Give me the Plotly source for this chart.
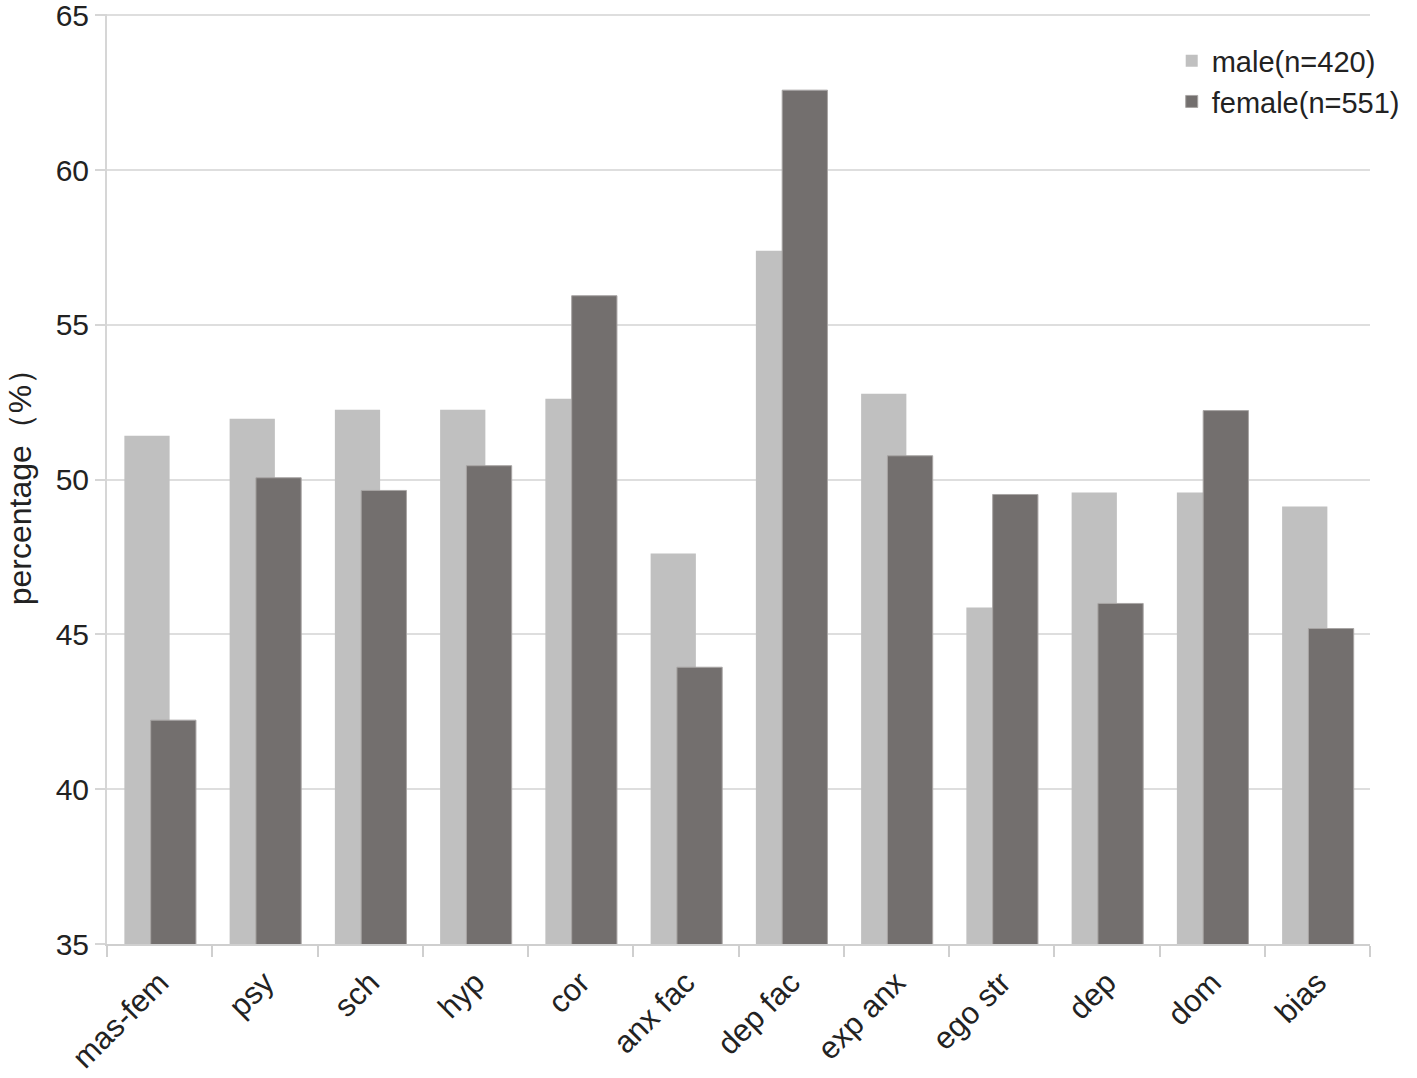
import plotly.graph_objects as go

categories = ["mas-fem", "psy", "sch", "hyp", "cor", "anx fac", "dep fac",
              "exp anx", "ego str", "dep", "dom", "bias"]
male = [51.42, 51.97, 52.26, 52.26, 52.61, 47.61, 57.39, 52.77, 45.87, 49.58, 49.58, 49.13]
female = [42.23, 50.06, 49.65, 50.45, 55.94, 43.94, 62.58, 50.77, 49.52, 46.0, 52.23, 45.19]
yticks = [35, 40, 45, 50, 55, 60, 65]

font = "Liberation Sans, Arial, Helvetica, sans-serif"

fig = go.Figure()
fig.add_trace(go.Bar(x=categories, y=male, name="male(n=420)",
                     marker=dict(color="#c0c0c0", line=dict(width=0)),
                     offset=-0.335, width=0.43, base=0))
fig.add_trace(go.Bar(x=categories, y=female, name="female(n=551)",
                     marker=dict(color="#736f6e", line=dict(color="#a8a5a4", width=1)),
                     offset=-0.085, width=0.43, base=0))

fig.update_layout(
    width=1417, height=1078,
    barmode="overlay",
    plot_bgcolor="white", paper_bgcolor="white",
    margin=dict(l=107, r=47, t=14, b=134, autoexpand=False),
    font=dict(family=font, size=26, color="#222222"),
    legend=dict(x=0.843, y=0.977, xanchor="left", yanchor="top",
                bgcolor="rgba(0,0,0,0)", font=dict(size=29, color="#222222"),
                itemwidth=30, tracegroupgap=24),
    showlegend=True,
)
fig.update_xaxes(
    type="category", tickson="boundaries", ticks="outside", ticklen=11,
    tickcolor="#cfcfcf", tickwidth=2, showline=True, linecolor="#cfcfcf",
    linewidth=2, tickangle=-45, tickfont=dict(size=31), showgrid=False,
    automargin=False, ticklabelstandoff=6,
)
fig.update_yaxes(
    range=[35, 65.04], tickvals=yticks, ticks="outside", ticklen=10,
    tickcolor="#d6d6d6", tickwidth=2, showline=True, linecolor="#d6d6d6",
    linewidth=2, gridcolor="#dedede", gridwidth=2, tickfont=dict(size=30),
    title=dict(text="percentage（%）", font=dict(size=32), standoff=14),
    zeroline=False, automargin=False, ticklabeloverflow="allow",
)
fig.write_html("out.html", config={"displayModeBar": False})

with open("out.html", "r", encoding="utf-8") as f:
    html = f.read()
html = html.replace("<body>", '<body style="margin:0">', 1)
with open("out.html", "w", encoding="utf-8") as f:
    f.write(html)
